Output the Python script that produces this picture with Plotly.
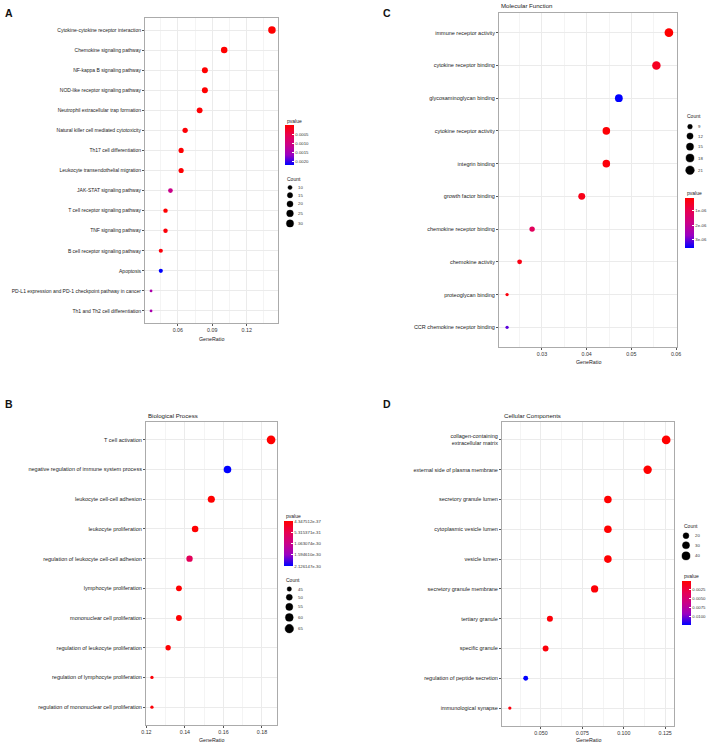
import math
import plotly.graph_objects as go

W, H = 708, 743

# ---------------- data ----------------
# Panel A (KEGG)
terms_A = ["Cytokine-cytokine receptor interaction", "Chemokine signaling pathway",
           "NF-kappa B signaling pathway", "NOD-like receptor signaling pathway",
           "Neutrophil extracellular trap formation", "Natural killer cell mediated cytotoxicity",
           "Th17 cell differentiation", "Leukocyte transendothelial migration",
           "JAK-STAT signaling pathway", "T cell receptor signaling pathway",
           "TNF signaling pathway", "B cell receptor signaling pathway", "Apoptosis",
           "PD-L1 expression and PD-1 checkpoint pathway in cancer",
           "Th1 and Th2 cell differentiation"]
ratio_A = [0.1420, 0.1004, 0.0836, 0.0836, 0.0790, 0.0664, 0.0629, 0.0629,
           0.0536, 0.0493, 0.0493, 0.0452, 0.0452, 0.0367, 0.0367]
count_A = [32, 23, 19, 19, 18, 15, 14, 14, 12, 11, 11, 10, 10, 8, 8]
pval_A = [1e-9, 2e-8, 5e-6, 1e-5, 3e-5, 4e-5, 2e-5, 3e-5,
          0.0011, 1e-5, 6e-5, 7e-5, 0.00218, 0.00142, 0.00145]
size_breaks_A = [10, 15, 20, 25, 30]
p_ticks_A = [0.0005, 0.0010, 0.0015, 0.0020]
p_labels_A = ["0.0005", "0.0010", "0.0015", "0.0020"]

# Panel B (Biological Process)
terms_B = ["T cell activation", "negative regulation of immune system process",
           "leukocyte cell-cell adhesion", "leukocyte proliferation",
           "regulation of leukocyte cell-cell adhesion", "lymphocyte proliferation",
           "mononuclear cell proliferation", "regulation of leukocyte proliferation",
           "regulation of lymphocyte proliferation",
           "regulation of mononuclear cell proliferation"]
ratio_B = [0.1847, 0.1621, 0.1537, 0.1453, 0.1424, 0.1369, 0.1369, 0.1313, 0.1229, 0.1229]
count_B = [66, 58, 55, 52, 51, 49, 49, 47, 44, 44]
pval_B = [4.347512e-37, 2.126147e-30, 1.2e-34, 3.5e-33, 6.2e-31,
          8.0e-33, 9.5e-33, 2.1e-32, 5.0e-32, 5.5e-32]
size_breaks_B = [45, 50, 55, 60, 65]
p_ticks_B = [4.347512e-37, 5.315371e-31, 1.063074e-30, 1.594610e-30, 2.126147e-30]
p_labels_B = ["4.347512e-37", "5.315371e-31", "1.063074e-30", "1.594610e-30", "2.126147e-30"]

# Panel C (Molecular Function)
terms_C = ["immune receptor activity", "cytokine receptor binding",
           "glycosaminoglycan binding", "cytokine receptor activity", "integrin binding",
           "growth factor binding", "chemokine receptor binding", "chemokine activity",
           "proteoglycan binding", "CCR chemokine receptor binding"]
ratio_C = [0.0584, 0.0556, 0.0472, 0.0444, 0.0444, 0.0389, 0.0278, 0.0250, 0.0222, 0.0222]
count_C = [21, 20, 17, 16, 16, 14, 10, 9, 8, 8]
pval_C = [9e-8, 4.5e-7, 3.62e-6, 1.5e-7, 2.0e-7, 3.5e-7, 1.15e-6, 3.0e-7, 2.2e-7, 3.1e-6]
size_breaks_C = [9, 12, 15, 18, 21]
p_ticks_C = [1e-6, 2e-6, 3e-6]
p_labels_C = ["1e-06", "2e-06", "3e-06"]

# Panel D (Cellular Components)
terms_D = ["collagen-containing<br>extracellular matrix", "external side of plasma membrane",
           "secretory granule lumen", "cytoplasmic vesicle lumen", "vesicle lumen",
           "secretory granule membrane", "tertiary granule", "specific granule",
           "regulation of peptide secretion", "immunological synapse"]
ratio_D = [0.1256, 0.1144, 0.0904, 0.0904, 0.0904, 0.0824, 0.0554, 0.0528, 0.0408, 0.0312]
count_D = [47, 43, 34, 34, 34, 31, 21, 20, 15, 12]
pval_D = [1e-7, 3e-6, 1e-5, 1.5e-5, 2e-5, 2.5e-4, 3e-4, 4e-4, 0.0124, 5e-4]
size_breaks_D = [20, 30, 40]
p_ticks_D = [0.0025, 0.0050, 0.0075, 0.0100]
p_labels_D = ["0.0025", "0.0050", "0.0075", "0.0100"]

# ---------------- style / layout config ----------------
FONT = "Liberation Sans, Arial, sans-serif"
# red (low p) -> blue (high p), Lab-interpolated; applied to -pvalue so red sits on top
SCALE = [[0.0, "rgb(0,0,255)"], [0.25, "rgb(154,0,194)"], [0.5, "rgb(202,0,136)"],
         [0.75, "rgb(232,0,80)"], [1.0, "rgb(255,0,0)"]]

panels = [
    dict(letter="A", letter_pos=(9, 13), title=None, title_pos=None,
         terms=terms_A, ratio=ratio_A, count=count_A, pval=pval_A,
         box=(145, 18, 278, 323), dtick=0.03, fmt=".2f", dmin=2.8, dmax=7.5, tfont=5.0,
         xtitle_y=339.5,
         size_breaks=size_breaks_A, p_ticks=p_ticks_A, p_labels=p_labels_A,
         cbar=(285, 125, 165), ptitle=(285, 121), ctitle=(285, 179), cdot=(290, 187.5), clabel_x=296,
         gap=3.0),
    dict(letter="B", letter_pos=(9, 404), title="Biological Process", title_pos=(146, 416),
         terms=terms_B, ratio=ratio_B, count=count_B, pval=pval_B,
         box=(146, 422, 277, 725), dtick=0.02, fmt=".2f", dmin=3.3, dmax=8.7, tfont=5.5,
         xtitle_y=740,
         size_breaks=size_breaks_B, p_ticks=p_ticks_B, p_labels=p_labels_B,
         cbar=(284, 521, 566), ptitle=(284, 516), ctitle=(284, 580), cdot=(289.3, 589), clabel_x=296,
         gap=3.0),
    dict(letter="C", letter_pos=(387, 13), title="Molecular Function", title_pos=(499, 5.5),
         terms=terms_C, ratio=ratio_C, count=count_C, pval=pval_C,
         box=(499, 13, 677, 347), dtick=0.01, fmt=".2f", dmin=3.3, dmax=8.7, tfont=5.5,
         xtitle_y=361.5,
         size_breaks=size_breaks_C, p_ticks=p_ticks_C, p_labels=p_labels_C,
         cbar=(685, 198, 248), ptitle=(685, 193), ctitle=(685, 116), cdot=(690, 126.7), clabel_x=696,
         gap=3.8),
    dict(letter="D", letter_pos=(387, 404), title="Cellular Components", title_pos=(502, 416),
         terms=terms_D, ratio=ratio_D, count=count_D, pval=pval_D,
         box=(502, 422, 674, 726), dtick=0.025, fmt=".3f", dmin=3.3, dmax=8.7, tfont=5.5,
         xtitle_y=740,
         size_breaks=size_breaks_D, p_ticks=p_ticks_D, p_labels=p_labels_D,
         cbar=(682, 581, 625), ptitle=(682, 575.5), ctitle=(682, 526), cdot=(686, 535.7), clabel_x=692.5,
         gap=3.0),
]


def px_x(px):
    return px / W


def px_y(py):
    return 1 - py / H


def size_fn(c, lo, hi, dmin, dmax):
    t = (c - lo) / (hi - lo) if hi > lo else 0.0
    t = min(max(t, 0.0), 1.0)
    return dmin + (dmax - dmin) * math.sqrt(t)


fig = go.Figure()
annotations = []
layout = {}

for i, p in enumerate(panels):
    n = i + 1
    sfx = "" if n == 1 else str(n)
    xa, ya = "x" + sfx, "y" + sfx
    lo_c, hi_c = min(p["count"]), max(p["count"])
    sizes = [size_fn(c, lo_c, hi_c, p["dmin"], p["dmax"]) for c in p["count"]]
    pmin, pmax = min(p["pval"]), max(p["pval"])
    cax = "coloraxis" + sfx
    left, top, right, bottom = p["box"]
    cl, ct, cb = p["cbar"]

    fig.add_trace(go.Scatter(
        x=p["ratio"], y=p["terms"], mode="markers", xaxis=xa, yaxis=ya,
        marker=dict(size=sizes, color=[-v for v in p["pval"]], coloraxis=cax,
                    line=dict(width=0), opacity=1),
        hoverinfo="x+y", showlegend=False, cliponaxis=False))

    layout[cax] = dict(
        colorscale=SCALE, cmin=-pmax, cmax=-pmin,
        colorbar=dict(x=px_x(cl), xanchor="left", y=px_y(ct), yanchor="top",
                      len=cb - ct, lenmode="pixels", thickness=8.5, thicknessmode="pixels",
                      xpad=0, ypad=0, outlinewidth=0, tickmode="array",
                      tickvals=[-v for v in p["p_ticks"]], ticktext=p["p_labels"],
                      ticks="inside", ticklen=2, tickcolor="white", tickwidth=0.6,
                      tickfont=dict(size=4.3, family=FONT, color="#333")))

    span = max(p["ratio"]) - min(p["ratio"])
    xr = [min(p["ratio"]) - 0.05 * span, max(p["ratio"]) + 0.05 * span]
    ntr = len(p["terms"])
    layout["xaxis" + sfx] = dict(
        domain=[px_x(left), px_x(right)], anchor=ya, range=xr,
        tickmode="linear", tick0=0, dtick=p["dtick"], tickformat=p["fmt"],
        showgrid=True, gridcolor="#EBEBEB", gridwidth=0.6,
        minor=dict(dtick=p["dtick"] / 2, tick0=0, showgrid=True, gridcolor="#F4F4F4", gridwidth=0.4),
        ticks="outside", ticklen=1.5, tickwidth=0.5, tickcolor="#555",
        showline=True, mirror=True, linecolor="#ABABAB", linewidth=1,
        zeroline=False, automargin=False,
        tickfont=dict(size=5.3, family=FONT, color="#333"))
    layout["yaxis" + sfx] = dict(
        domain=[px_y(bottom), px_y(top)], anchor=xa, type="category",
        categoryorder="array", categoryarray=p["terms"], range=[ntr - 1 + 0.6, -0.6],
        showgrid=True, gridcolor="#EBEBEB", gridwidth=0.6,
        ticks="outside", ticklen=2, tickwidth=0.5, tickcolor="#555",
        showline=True, mirror=True, linecolor="#ABABAB", linewidth=1,
        zeroline=False, automargin=False,
        tickfont=dict(size=p["tfont"], family=FONT, color="#222"))

    annotations.append(dict(text="<b>%s</b>" % p["letter"], x=px_x(p["letter_pos"][0]),
                            y=px_y(p["letter_pos"][1]), xref="paper", yref="paper",
                            showarrow=False, xanchor="center", yanchor="middle",
                            font=dict(size=10.5, family=FONT, color="#111")))
    if p["title"]:
        annotations.append(dict(text=p["title"], x=px_x(p["title_pos"][0]), y=px_y(p["title_pos"][1]),
                                xref="paper", yref="paper", showarrow=False, xanchor="left",
                                yanchor="middle", font=dict(size=6.1, family=FONT, color="#222")))
    annotations.append(dict(text="GeneRatio", x=px_x((left + right) / 2), y=px_y(p["xtitle_y"]),
                            xref="paper", yref="paper", showarrow=False, xanchor="center",
                            yanchor="middle", font=dict(size=5.3, family=FONT, color="#222")))
    annotations.append(dict(text="pvalue", x=px_x(p["ptitle"][0]), y=px_y(p["ptitle"][1]),
                            xref="paper", yref="paper", showarrow=False, xanchor="left",
                            yanchor="middle", font=dict(size=5, family=FONT, color="#222")))
    annotations.append(dict(text="Count", x=px_x(p["ctitle"][0]), y=px_y(p["ctitle"][1]),
                            xref="paper", yref="paper", showarrow=False, xanchor="left",
                            yanchor="middle", font=dict(size=5, family=FONT, color="#222")))

    # size legend keys (sizes through the same size scale)
    kd = [size_fn(c, lo_c, hi_c, p["dmin"], p["dmax"]) for c in p["size_breaks"]]
    ky = [p["cdot"][1]]
    for k in range(1, len(kd)):
        ky.append(ky[-1] + (kd[k - 1] + kd[k]) / 2 + p["gap"])
    fig.add_trace(go.Scatter(
        x=[p["cdot"][0]] * len(kd), y=ky, mode="markers", xaxis="x5", yaxis="y5",
        marker=dict(size=kd, color="#000000", opacity=1, line=dict(width=0.4, color="#000000")),
        hoverinfo="skip", showlegend=False, cliponaxis=False))
    for v, yy in zip(p["size_breaks"], ky):
        annotations.append(dict(text=str(v), x=px_x(p["clabel_x"]), y=px_y(yy),
                                xref="paper", yref="paper", showarrow=False, xanchor="left",
                                yanchor="middle", font=dict(size=4.3, family=FONT, color="#333")))

layout["xaxis5"] = dict(domain=[0, 1], range=[0, W], visible=False, anchor="y5", fixedrange=True)
layout["yaxis5"] = dict(domain=[0, 1], range=[H, 0], visible=False, anchor="x5", fixedrange=True)

fig.update_layout(
    **layout,
    annotations=annotations,
    width=W, height=H,
    margin=dict(l=0, r=0, t=0, b=0, pad=0, autoexpand=False),
    template="none",
    paper_bgcolor="white", plot_bgcolor="rgba(0,0,0,0)",
    showlegend=False,
    font=dict(family=FONT),
)

fig.write_html("out.html", include_plotlyjs=True, config={"displayModeBar": False},
               post_script="document.body.style.margin='0';document.body.style.overflow='hidden';")
